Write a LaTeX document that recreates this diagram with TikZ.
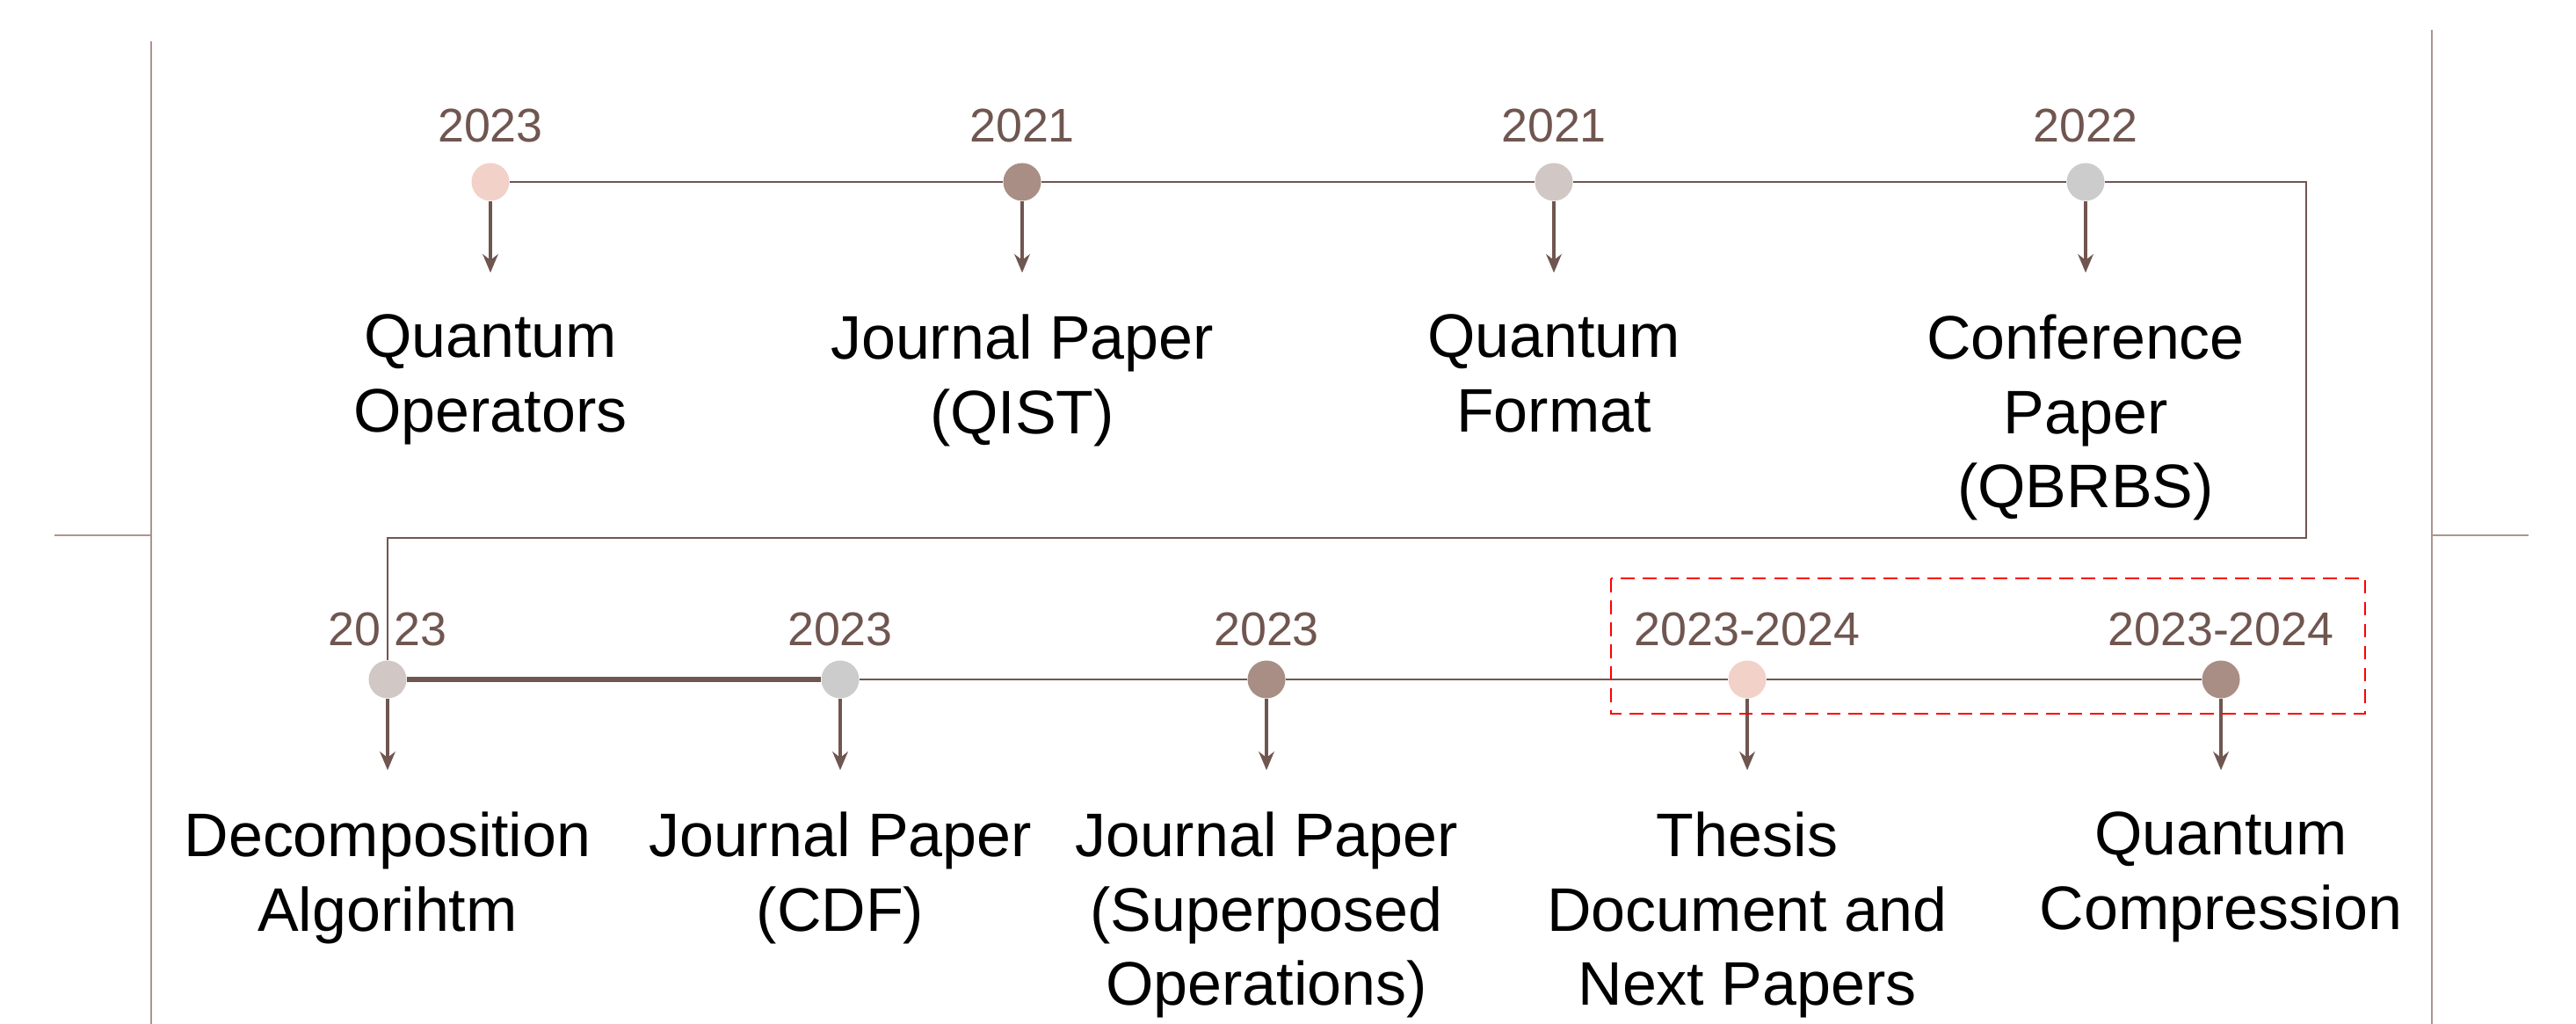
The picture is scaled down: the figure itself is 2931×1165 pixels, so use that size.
\documentclass[tikz,border=0pt]{standalone}
\usepackage{fontspec}
\setmainfont{Liberation Sans}
\usetikzlibrary{arrows.meta,positioning}

\definecolor{linebrown}{RGB}{112,86,80}
\definecolor{sidebrown}{RGB}{172,149,141}
\definecolor{dotpink}{RGB}{242,209,201}
\definecolor{dotdark}{RGB}{168,142,133}
\definecolor{dotwarm}{RGB}{209,199,196}
\definecolor{dotgrey}{RGB}{204,204,204}

\tikzset{
  dot/.style={circle,inner sep=0pt,minimum size=0.43cm,fill=#1},
  year/.style={inner sep=0pt,anchor=base,text=linebrown,font=\fontsize{15.3}{18}\selectfont},
  label/.style={inner sep=0pt,align=center,font=\fontsize{19.9}{24}\selectfont},
  tline/.style={draw=linebrown,line width=0.8pt},
  thickline/.style={draw=linebrown,line width=1.5pt},
  arr/.style={draw=linebrown,line width=0.95pt,shorten >=0.47cm,
    -{Stealth[length=6pt,width=5pt]}},
  side/.style={draw=sidebrown,line width=0.7pt},
  redbox/.style={draw=red,line width=0.8pt,dash pattern=on 4.5pt off 2.6pt}
}

\begin{document}
\begin{tikzpicture}[x=0.01cm,y=-0.01cm]
  \useasboundingbox (0,0) rectangle (2931,1165);

  % frame lines on both sides
  \draw[side] (172,47) -- (172,1165);
  \draw[side] (62,609) -- (172,609);
  \draw[side] (2767,34) -- (2767,1165);
  \draw[side] (2767,609) -- (2877,609);

  % top row: dots and years
  \foreach \x/\c/\n/\y in {558/dotpink/t1/2023,1163/dotdark/t2/2021,
      1768/dotwarm/t3/2021,2373/dotgrey/t4/2022}
  {
    \node[dot=\c] (\n) at (\x,207) {};
    \node[year,above=0.23cm of \n,anchor=base] (y\n) {\y};
  }

  % bottom row: dots and years
  \foreach \x/\c/\n/\y in {441/dotwarm/b1/20 23,956/dotgrey/b2/2023,
      1441/dotdark/b3/2023,1988/dotpink/b4/2023-2024,2527/dotdark/b5/2023-2024}
  {
    \node[dot=\c] (\n) at (\x,773) {};
    \node[year,above=0.16cm of \n,anchor=base] (y\n) {\y};
  }

  % timeline
  \coordinate (turnR) at (2624,612);
  \coordinate (turnL) at (441,612);
  \draw[tline] (t1) -- (t2) -- (t3) -- (t4);
  \draw[tline] (t4) -| (turnR) -- (turnL) -- (b1);
  \draw[thickline] (b1) -- (b2);
  \draw[tline] (b2) -- (b3) -- (b4) -- (b5);

  % labels below the dots
  \node[label,below=1.28cm of t1] (lt1) {Quantum\\Operators};
  \node[label,below=1.28cm of t2] (lt2) {Journal Paper\\(QIST)};
  \node[label,below=1.28cm of t3] (lt3) {Quantum\\Format};
  \node[label,below=1.28cm of t4] (lt4) {Conference\\Paper\\(QBRBS)};
  \node[label,below=1.28cm of b1] (lb1) {Decomposition\\Algorihtm};
  \node[label,below=1.28cm of b2] (lb2) {Journal Paper\\(CDF)};
  \node[label,below=1.28cm of b3] (lb3) {Journal Paper\\(Superposed\\Operations)};
  \node[label,below=1.28cm of b4] (lb4) {Thesis\\Document and\\Next Papers};
  \node[label,below=1.28cm of b5] (lb5) {Quantum\\Compression};

  \foreach \n in {t1,t2,t3,t4,b1,b2,b3,b4,b5}
    \draw[arr] (\n) -- (l\n);

  % highlighted part
  \draw[redbox] (1833,658) rectangle (2691,812);
\end{tikzpicture}
\end{document}
